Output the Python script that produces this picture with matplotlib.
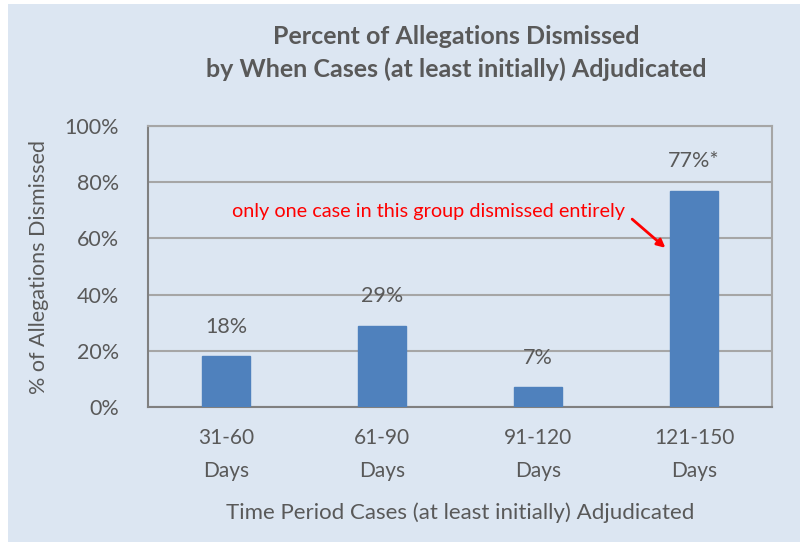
import matplotlib
matplotlib.use("Agg")
import matplotlib.pyplot as plt
from matplotlib.patches import Rectangle

categories = ["31-60\nDays", "61-90\nDays", "91-120\nDays", "121-150\nDays"]
values = [18, 29, 7, 77]
value_labels = ["18%", "29%", "7%", "77%*"]
yticks = [0, 20, 40, 60, 80, 100]
title = "Percent of Allegations Dismissed\nby When Cases (at least initially) Adjudicated"
note = "only one case in this group dismissed entirely"

plt.rcParams['font.family'] = ['Lato', 'DejaVu Sans']
txt = "#595959"
W, H = 807, 542
fig = plt.figure(figsize=(W/100, H/100), dpi=100)
fig.patch.set_facecolor("white")
fig.patches.append(Rectangle((8/W, 0), (800-8)/W, (542-4)/H, transform=fig.transFigure,
                             facecolor="#DCE6F2", edgecolor="none", zorder=-10))

ax = fig.add_axes([148/W, 1-407/H, (772-148)/W, (407-126)/H])
ax.set_zorder(1)
ax.set_facecolor("#DCE6F2")
x = list(range(len(categories)))
ax.bar(x, values, width=0.31, color="#4F81BD", edgecolor="#4F81BD", zorder=3)
ax.set_xlim(-0.5, 3.5)
ax.set_ylim(0, 100)
ax.set_yticks(yticks)
ax.set_yticklabels([f"{v}%" for v in yticks], fontsize=15.5, color=txt)
ax.set_xticks(x)
ax.set_xticklabels(categories, fontsize=15, color=txt, linespacing=1.85)
ax.tick_params(axis='y', length=0, pad=21)
ax.tick_params(axis='x', length=0, pad=15)
ax.yaxis.grid(True, color="#A6A6A6", linewidth=1.5, zorder=1)
for s in ax.spines.values():
    s.set_color("#A6A6A6")
    s.set_linewidth(1.5)
ax.spines['left'].set_color("#808080")
ax.spines['bottom'].set_color("#808080")

for xi, v, lab in zip(x, values, value_labels):
    ax.annotate(lab, (xi, v), xytext=(0, 21), textcoords="offset points",
                ha="center", va="center", fontsize=15.5, color=txt)

ax.set_ylabel("% of Allegations Dismissed", fontsize=15.5, color=txt, labelpad=11)
ax.set_xlabel("Time Period Cases (at least initially) Adjudicated", fontsize=16, color=txt, labelpad=15)

fig.text(456/W, 1-53/H, title, ha="center", va="center", fontsize=18,
         fontweight="bold", color=txt, linespacing=1.45)

ax.text(2.555, 69.5, note, ha="right", va="center", fontsize=14.3, color="#FF0000")
ax.annotate("", xy=(2.83, 56), xytext=(2.59, 67.5),
            arrowprops=dict(arrowstyle="-|>", color="#FF0000", lw=2, mutation_scale=12), zorder=4)

fig.savefig("out.png", dpi=100)
